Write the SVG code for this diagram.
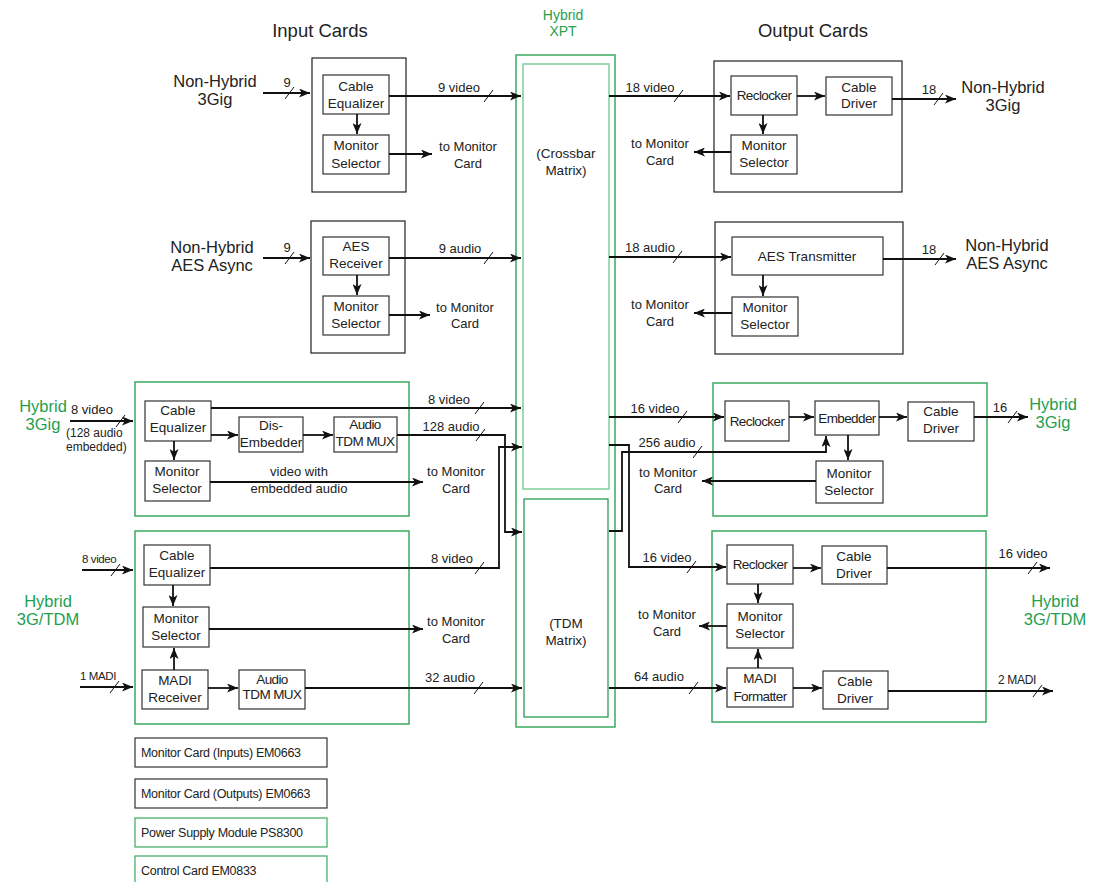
<svg xmlns="http://www.w3.org/2000/svg" width="1096" height="882" viewBox="0 0 1096 882">
<defs>
<marker id="ah" markerWidth="12" markerHeight="9" refX="11" refY="4.5" orient="auto" markerUnits="userSpaceOnUse"><path d="M0,0 L11,4.5 L0,9 L2.8,4.5 z" fill="#111"/></marker>
<style>
text{font-family:"Liberation Sans",Arial,sans-serif;fill:#222}
.box{fill:#fff;stroke:#333;stroke-width:1.2}
.card{fill:none;stroke:#222;stroke-width:1.2}
.gcard{fill:none;stroke:#3aaa5f;stroke-width:1.5}
.w{fill:none;stroke:#111;stroke-width:1.8}
.a{marker-end:url(#ah)}
.sl{stroke:#111;stroke-width:1}
.t{font-size:13.5px;text-anchor:middle}
.tc{font-size:13.5px;text-anchor:middle;letter-spacing:-0.6px}
.l{font-size:13px;text-anchor:middle}
.s{font-size:12px}
.big{font-size:16.5px;text-anchor:middle}
.title{font-size:18.5px;text-anchor:middle}
.g{fill:#1fa04f}
.leg{font-size:12.5px;letter-spacing:-0.3px}
</style>
</defs>
<rect width="1096" height="882" fill="#fff"/>

<text class="title" x="320" y="37">Input Cards</text>
<text class="title" x="813" y="37">Output Cards</text>

<g id="xpt">
<rect x="516" y="55" width="99" height="672" fill="none" stroke="#3aaa5f" stroke-width="1.5"/>
<rect x="523" y="64" width="86" height="425" fill="none" stroke="#7fcf9a" stroke-width="1.5"/>
<rect x="524" y="499" width="84" height="218" fill="none" stroke="#2a9d55" stroke-width="1.3"/>
<text class="l g" x="563" y="20" style="font-size:14px">Hybrid</text>
<text class="l g" x="563" y="36" style="font-size:14px">XPT</text>
<text class="t" x="566" y="158">(Crossbar</text>
<text class="t" x="566" y="175">Matrix)</text>
<text class="t" x="566" y="628">(TDM</text>
<text class="t" x="566" y="645">Matrix)</text>
</g>

<g id="in-nh3g">
<rect class="card" x="312" y="58" width="94" height="134"/>
<rect class="box" x="323" y="75" width="66" height="39"/>
<text class="t" x="356" y="91">Cable</text><text class="t" x="356" y="108">Equalizer</text>
<rect class="box" x="323" y="135" width="66" height="39"/>
<text class="t" x="356" y="150">Monitor</text><text class="t" x="356" y="168">Selector</text>
<text class="big" x="215" y="87">Non-Hybrid</text><text class="big" x="215" y="105">3Gig</text>
</g>

<g id="in-nhaes">
<rect class="card" x="311" y="221" width="94" height="132"/>
<rect class="box" x="323" y="237" width="66" height="38"/>
<text class="t" x="356" y="251">AES</text><text class="t" x="356" y="268">Receiver</text>
<rect class="box" x="323" y="296" width="66" height="39"/>
<text class="t" x="356" y="311">Monitor</text><text class="t" x="356" y="328">Selector</text>
<text class="big" x="212" y="253">Non-Hybrid</text><text class="big" x="212" y="271">AES Async</text>
</g>

<g id="in-h3g">
<rect class="gcard" x="135" y="382" width="274" height="134"/>
<rect class="box" x="145" y="401" width="66" height="40"/>
<text class="t" x="178" y="415">Cable</text><text class="t" x="178" y="432">Equalizer</text>
<rect class="box" x="239" y="417" width="64" height="35"/>
<text class="t" x="271" y="430">Dis-</text><text class="t" x="271" y="447">Embedder</text>
<rect class="box" x="334" y="417" width="63" height="35"/>
<text class="tc" x="365" y="429">Audio</text><text class="tc" x="365" y="446">TDM MUX</text>
<rect class="box" x="145" y="461" width="65" height="40"/>
<text class="t" x="177" y="476">Monitor</text><text class="t" x="177" y="493">Selector</text>
<text class="big g" x="43" y="412">Hybrid</text><text class="big g" x="43" y="430">3Gig</text>
<text class="l" x="92" y="414">8 video</text>
<text class="s" x="66" y="437">(128 audio</text><text class="s" x="66" y="451">embedded)</text>
<text class="l" x="299" y="476">video with</text><text class="l" x="299" y="493">embedded audio</text>
</g>

<g id="in-h3gtdm">
<rect class="gcard" x="135" y="531" width="274" height="193"/>
<rect class="box" x="144" y="545" width="66" height="40"/>
<text class="t" x="177" y="560">Cable</text><text class="t" x="177" y="577">Equalizer</text>
<rect class="box" x="143" y="607" width="66" height="40"/>
<text class="t" x="176" y="623">Monitor</text><text class="t" x="176" y="640">Selector</text>
<rect class="box" x="142" y="670" width="66" height="39"/>
<text class="t" x="175" y="685">MADI</text><text class="t" x="175" y="702">Receiver</text>
<rect class="box" x="239" y="670" width="66" height="39"/>
<text class="tc" x="272" y="684">Audio</text><text class="tc" x="272" y="699">TDM MUX</text>
<text class="big g" x="48" y="607">Hybrid</text><text class="big g" x="48" y="625">3G/TDM</text>
<text style="font-size:11.5px;letter-spacing:-0.4px" x="82" y="563">8 video</text>
<text style="font-size:11.5px;letter-spacing:-0.4px" x="80" y="680">1 MADI</text>
</g>

<g id="out-nh3g">
<rect class="card" x="714" y="61" width="188" height="131"/>
<rect class="box" x="731" y="76" width="66" height="39"/>
<text class="tc" x="764" y="100">Reclocker</text>
<rect class="box" x="826" y="77" width="66" height="38"/>
<text class="t" x="859" y="92">Cable</text><text class="t" x="859" y="108">Driver</text>
<rect class="box" x="731" y="135" width="66" height="39"/>
<text class="t" x="764" y="150">Monitor</text><text class="t" x="764" y="167">Selector</text>
<text class="big" x="1003" y="93">Non-Hybrid</text><text class="big" x="1003" y="111">3Gig</text>
</g>

<g id="out-nhaes">
<rect class="card" x="715" y="222" width="188" height="132"/>
<rect class="box" x="732" y="237" width="151" height="38"/>
<text class="t" x="807" y="261">AES Transmitter</text>
<rect class="box" x="732" y="297" width="66" height="39"/>
<text class="t" x="765" y="312">Monitor</text><text class="t" x="765" y="329">Selector</text>
<text class="big" x="1007" y="251">Non-Hybrid</text><text class="big" x="1007" y="269">AES Async</text>
</g>

<g id="out-h3g">
<rect class="gcard" x="713" y="383" width="274" height="133"/>
<rect class="box" x="725" y="401" width="64" height="40"/>
<text class="tc" x="757" y="426">Reclocker</text>
<rect class="box" x="815" y="401" width="64" height="34"/>
<text class="tc" x="847" y="423">Embedder</text>
<rect class="box" x="908" y="402" width="66" height="39"/>
<text class="t" x="941" y="416">Cable</text><text class="t" x="941" y="433">Driver</text>
<rect class="box" x="816" y="461" width="67" height="42"/>
<text class="t" x="849" y="478">Monitor</text><text class="t" x="849" y="495">Selector</text>
<text class="big g" x="1053" y="410">Hybrid</text><text class="big g" x="1053" y="428">3Gig</text>
</g>

<g id="out-h3gtdm">
<rect class="gcard" x="712" y="531" width="274" height="191"/>
<rect class="box" x="727" y="545" width="66" height="39"/>
<text class="tc" x="760" y="569">Reclocker</text>
<rect class="box" x="822" y="546" width="65" height="38"/>
<text class="t" x="854" y="561">Cable</text><text class="t" x="854" y="578">Driver</text>
<rect class="box" x="727" y="604" width="66" height="44"/>
<text class="t" x="760" y="621">Monitor</text><text class="t" x="760" y="638">Selector</text>
<rect class="box" x="727" y="668" width="66" height="39"/>
<text class="t" x="760" y="683">MADI</text><text class="tc" x="760" y="701">Formatter</text>
<rect class="box" x="823" y="671" width="65" height="38"/>
<text class="t" x="855" y="686">Cable</text><text class="t" x="855" y="703">Driver</text>
<text class="big g" x="1055" y="607">Hybrid</text><text class="big g" x="1055" y="625">3G/TDM</text>
</g>

<g id="legend">
<rect class="box" x="135" y="738" width="192" height="29"/>
<text class="leg" x="141" y="757">Monitor Card (Inputs) EM0663</text>
<rect class="box" x="135" y="779" width="192" height="29"/>
<text class="leg" x="141" y="798">Monitor Card (Outputs) EM0663</text>
<rect class="box" x="135" y="818" width="192" height="29" style="stroke:#3aaa5f"/>
<text class="leg" x="141" y="837">Power Supply Module PS8300</text>
<rect class="box" x="135" y="856" width="192" height="32" style="stroke:#3aaa5f"/>
<text class="leg" x="141" y="875">Control Card EM0833</text>
</g>

<g id="connectors">
<path class="w a" d="M263,93 L310,93"/>
<line class="sl" x1="285" y1="99" x2="294" y2="87"/>
<text class="l" x="287" y="87">9</text>
<path class="w a" d="M357,114 L357,134"/>
<path class="w a" d="M389,96 L521,96"/>
<line class="sl" x1="484" y1="102" x2="493" y2="90"/>
<text class="l" x="459" y="92">9 video</text>
<path class="w a" d="M389,154 L432,154"/>
<text class="l" x="468" y="151">to Monitor</text><text class="l" x="468" y="168">Card</text>

<path class="w a" d="M263,258 L310,258"/>
<line class="sl" x1="285" y1="264" x2="294" y2="252"/>
<text class="l" x="287" y="252">9</text>
<path class="w a" d="M357,275 L357,295"/>
<path class="w a" d="M389,258 L521,258"/>
<line class="sl" x1="484" y1="264" x2="493" y2="252"/>
<text class="l" x="460" y="253">9 audio</text>
<path class="w a" d="M389,315 L430,315"/>
<text class="l" x="465" y="312">to Monitor</text><text class="l" x="465" y="328">Card</text>

<path class="w a" d="M70,421 L133,421"/>
<line class="sl" x1="116" y1="427" x2="125" y2="415"/>
<path class="w a" d="M211,435 L238,435"/>
<path class="w a" d="M303,435 L333,435"/>
<path class="w a" d="M174,441 L174,460"/>
<path class="w a" d="M211,408 L521,408"/>
<line class="sl" x1="475" y1="414" x2="484" y2="402"/>
<text class="l" x="449" y="404">8 video</text>
<path class="w a" d="M397,435 L505,435 L505,532 L522,532"/>
<line class="sl" x1="476" y1="441" x2="485" y2="429"/>
<text class="l" x="451" y="431">128 audio</text>
<path class="w a" d="M210,482 L423,482"/>
<text class="l" x="456" y="476">to Monitor</text><text class="l" x="456" y="493">Card</text>

<path class="w a" d="M82,570 L133,570"/>
<line class="sl" x1="111" y1="576" x2="120" y2="564"/>
<path class="w a" d="M80,687 L133,687"/>
<line class="sl" x1="110" y1="693" x2="119" y2="681"/>
<path class="w a" d="M173,585 L173,606"/>
<path class="w a" d="M174,670 L174,648"/>
<path class="w a" d="M208,688 L238,688"/>
<path class="w a" d="M210,568 L499,568 L499,447 L522,447"/>
<line class="sl" x1="475" y1="574" x2="484" y2="562"/>
<text class="l" x="452" y="563">8 video</text>
<path class="w a" d="M209,629 L423,629"/>
<text class="l" x="456" y="626">to Monitor</text><text class="l" x="456" y="643">Card</text>
<path class="w a" d="M305,688 L522,688"/>
<line class="sl" x1="474" y1="694" x2="483" y2="682"/>
<text class="l" x="450" y="682">32 audio</text>

<path class="w a" d="M609,96 L730,96"/>
<line class="sl" x1="674" y1="102" x2="683" y2="90"/>
<text class="l" x="650" y="92">18 video</text>
<path class="w a" d="M797,96 L825,96"/>
<path class="w a" d="M763,115 L763,134"/>
<path class="w a" d="M731,152 L694,152"/>
<text class="l" x="660" y="148">to Monitor</text><text class="l" x="660" y="165">Card</text>
<path class="w a" d="M892,99 L956,99"/>
<line class="sl" x1="934" y1="105" x2="943" y2="93"/>
<text class="l" x="929" y="94">18</text>

<path class="w a" d="M609,257 L731,257"/>
<line class="sl" x1="673" y1="263" x2="682" y2="251"/>
<text class="l" x="650" y="252">18 audio</text>
<path class="w a" d="M763,275 L763,296"/>
<path class="w a" d="M732,313 L694,313"/>
<text class="l" x="660" y="309">to Monitor</text><text class="l" x="660" y="326">Card</text>
<path class="w a" d="M883,259 L956,259"/>
<line class="sl" x1="935" y1="265" x2="944" y2="253"/>
<text class="l" x="929" y="254">18</text>

<path class="w a" d="M609,417 L724,417"/>
<line class="sl" x1="678" y1="423" x2="687" y2="411"/>
<text class="l" x="655" y="413">16 video</text>
<path class="w a" d="M789,417 L814,417"/>
<path class="w a" d="M879,417 L907,417"/>
<path class="w a" d="M974,417 L1028,417"/>
<line class="sl" x1="1008" y1="423" x2="1017" y2="411"/>
<text class="l" x="1000" y="412">16</text>
<path class="w a" d="M609,531 L622,531 L622,452 L826,452 L826,436"/>
<line class="sl" x1="693" y1="458" x2="702" y2="446"/>
<text class="l" x="667" y="447">256 audio</text>
<path class="w a" d="M848,435 L848,460"/>
<path class="w a" d="M816,481 L702,481"/>
<text class="l" x="668" y="477">to Monitor</text><text class="l" x="668" y="493">Card</text>

<path class="w a" d="M609,445 L629,445 L629,567 L726,567"/>
<line class="sl" x1="687" y1="573" x2="696" y2="561"/>
<text class="l" x="667" y="562">16 video</text>
<path class="w a" d="M793,568 L821,568"/>
<path class="w a" d="M887,568 L1050,568"/>
<line class="sl" x1="1028" y1="574" x2="1037" y2="562"/>
<text class="l" x="1023" y="558">16 video</text>
<path class="w a" d="M758,584 L758,603"/>
<path class="w a" d="M758,668 L758,649"/>
<path class="w a" d="M727,626 L699,626"/>
<text class="l" x="667" y="619">to Monitor</text><text class="l" x="667" y="636">Card</text>
<path class="w a" d="M609,688 L726,688"/>
<line class="sl" x1="689" y1="694" x2="698" y2="682"/>
<text class="l" x="659" y="681">64 audio</text>
<path class="w a" d="M793,688 L822,688"/>
<path class="w a" d="M888,691 L1053,691"/>
<line class="sl" x1="1033" y1="697" x2="1042" y2="685"/>
<text x="1017" y="684" style="font-size:12px;text-anchor:middle;letter-spacing:-0.3px">2 MADI</text>
</g>
</svg>
